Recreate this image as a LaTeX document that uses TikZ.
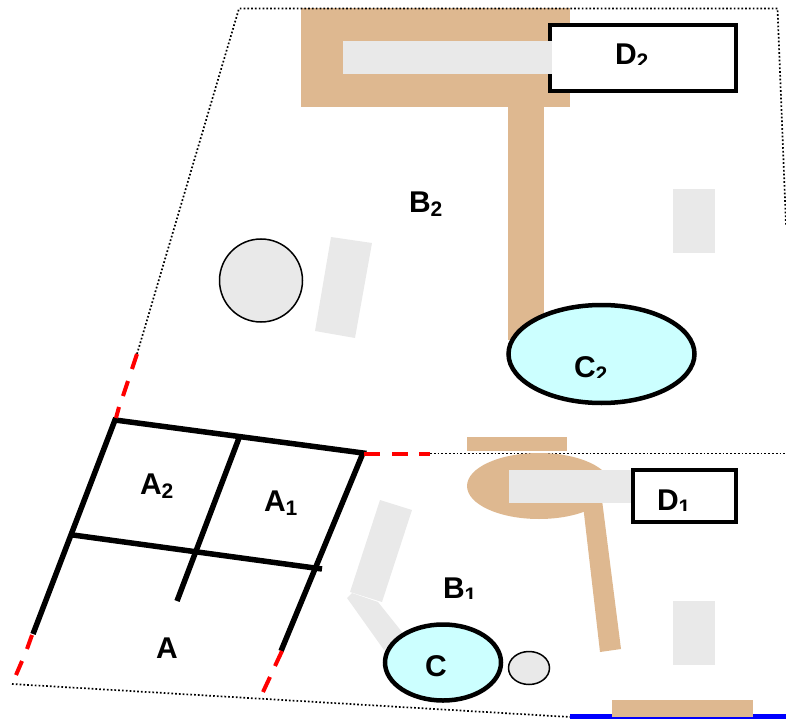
\documentclass[tikz,border=0pt]{standalone}
\usepackage{fontspec}
\setmainfont{Liberation Sans}
\definecolor{tan1}{RGB}{222,184,144}
\definecolor{gray1}{RGB}{233,233,233}
\definecolor{cyan1}{RGB}{204,255,255}
\tikzset{
  tanfill/.style={fill=tan1,draw=none},
  grayfill/.style={fill=gray1,draw=none},
  bound/.style={black,line width=1.7pt,dash pattern=on 1.7pt off 2.1pt},
  wall/.style={black,line width=5.5pt},
  reddash/.style={red,line width=4pt},
  boxstyle/.style={draw=black,line width=4pt,fill=white,inner sep=0pt,outer sep=0pt},
  lbl/.style={font=\fontsize{30}{30}\bfseries\selectfont,inner sep=0pt,outer sep=0pt,text=black,anchor=base west}
}
\newcommand{\subs}[1]{\raisebox{-4pt}{\fontsize{21}{21}\selectfont #1}}
\begin{document}
\begin{tikzpicture}[x=1pt,y=-1pt]
\useasboundingbox (0,0) rectangle (786,719);
% upper tan
\fill[tanfill] (301,8) rectangle (570,107);
\fill[tanfill] (508,107) rectangle (544,340);
% boundary
\coordinate (tl) at (239,8.5);
\coordinate (tr) at (777.5,8.5);
\coordinate (re) at (786,225);
\coordinate (ls) at (137,354);
\coordinate (mr) at (786,453.5);
\coordinate (ms) at (430,453.5);
\coordinate (bl) at (12,684);
\coordinate (br) at (570,717);
\draw[bound] (ls) -- (tl) -- (tr) -- (re);
\draw[bound] (ms) -- (mr);
\draw[bound] (bl) -- (br);
\node[boxstyle,minimum width=186pt,minimum height=66pt] (d2box) at (643,58) {};
\fill[grayfill] (343,41) rectangle (552,74);
% upper others
\fill[grayfill] (673,189) rectangle (715,253);
\fill[grayfill] (331,237) -- (372,243) -- (355,338) -- (315,331) -- cycle;
\draw[black,line width=1.5pt,fill=gray1] (261,280.5) ellipse [x radius=41.5,y radius=41.5];
\draw[black,line width=4.5pt,fill=cyan1] (601.5,354) ellipse [x radius=93,y radius=49];
% lower tan
\fill[tanfill] (467,437) rectangle (567,451);
\fill[tanfill] (539,486) ellipse [x radius=72,y radius=33];
\fill[tanfill] (583,505) -- (602,500) -- (621,649) -- (600,652) -- cycle;
\fill[grayfill] (509,470) rectangle (632,503);
\node[boxstyle,minimum width=103pt,minimum height=52pt] (d1box) at (684.5,496) {};
\fill[grayfill] (673,601) rectangle (715,665);
\draw[blue,line width=5pt] (570,716.5) -- (786,716.5);
\fill[tanfill] (612,700) rectangle (753,717);
% lower gray
\fill[grayfill] (347,598) -- (352,593) -- (378,602) -- (402,632) -- (384,650) -- cycle;
\fill[grayfill] (380,500) -- (412,510) -- (382,602) -- (350,592) -- cycle;
\draw[black,line width=4.5pt,fill=cyan1] (443,662.5) ellipse [x radius=58,y radius=38];
\draw[black,line width=1.5pt,fill=gray1] (529,668) ellipse [x radius=20.5,y radius=16.5];
% walls
\coordinate (p1) at (115,420);
\coordinate (p2) at (363,453);
\coordinate (p3) at (33,634);
\coordinate (p4) at (281,651);
\coordinate (m1) at (73,535);
\coordinate (m2) at (322,569);
\coordinate (i1) at (239,438);
\coordinate (i2) at (177,601);
\draw[wall] (p3) -- (p1) -- (p2) -- (p4);
\draw[wall] (m1) -- (m2);
\draw[wall] (i1) -- (i2);
% red dashes
\coordinate (ra1) at (364,453.5); \coordinate (ra2) at (380,453.5);
\coordinate (rb1) at (392,453.5); \coordinate (rb2) at (408,453.5);
\coordinate (rc1) at (419,453.5); \coordinate (rc2) at (430,453.5);
\draw[reddash] (ra1) -- (ra2) (rb1) -- (rb2) (rc1) -- (rc2);
\coordinate (rd1) at (32,635); \coordinate (rd2) at (27,649);
\coordinate (re1) at (22,661); \coordinate (re2) at (16,675);
\draw[reddash] (rd1) -- (rd2) (re1) -- (re2);
\coordinate (rf1) at (282,651); \coordinate (rf2) at (275,666);
\coordinate (rg1) at (270,677); \coordinate (rg2) at (263,692);
\draw[reddash] (rf1) -- (rf2) (rg1) -- (rg2);
\coordinate (rh1) at (116,418); \coordinate (rh2) at (119,407);
\coordinate (ri1) at (123,396); \coordinate (ri2) at (128,381);
\coordinate (rj1) at (132,369); \coordinate (rj2) at (137,354);
\draw[reddash] (rh1) -- (rh2) (ri1) -- (ri2) (rj1) -- (rj2);
% labels
\node[lbl] (a) at (156,658) {A};
\node[lbl] (a2) at (140,494) {A\subs{2}};
\node[lbl] (a1) at (264,511) {A\subs{1}};
\node[lbl] (b2) at (409,213) {B\subs{2}};
\node[lbl] (c) at (425,676) {C};
\begin{scope}
\clip (440,560) rectangle (480,598);
\node[lbl] (b1) at (443,598) {B\subs{1}};
\end{scope}
\begin{scope}
\clip (560,340) rectangle (620,377.5);
\node[lbl] (c2) at (574,377) {C\subs{2}};
\end{scope}
\begin{scope}
\clip (600,30) rectangle (660,65);
\node[lbl] (d2) at (615,65) {D\subs{2}};
\end{scope}
\begin{scope}
\clip (650,480) rectangle (700,510);
\node[lbl] (d1) at (657,510) {D\subs{1}};
\end{scope}
\end{tikzpicture}
\end{document}
